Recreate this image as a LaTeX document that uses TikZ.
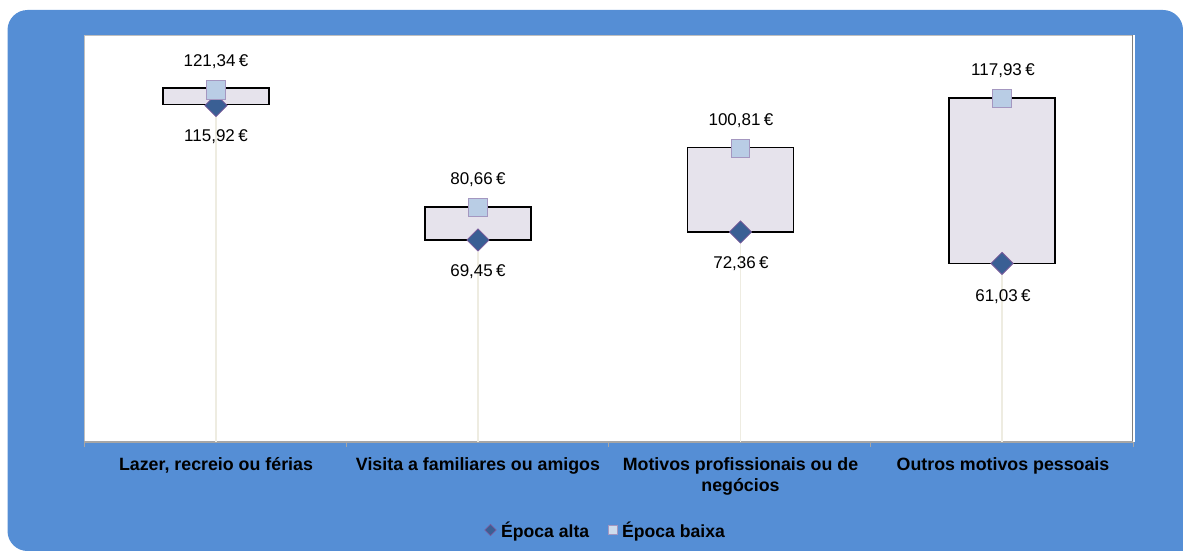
\documentclass[tikz,border=0pt]{standalone}
\usepackage{fontspec}
\setmainfont{Liberation Sans}
\usetikzlibrary{shapes.geometric}
\definecolor{bgblue}{HTML}{558ED5}
\definecolor{boxfill}{HTML}{E6E3EC}
\definecolor{sqfill}{HTML}{B9CDE5}
\definecolor{sqdraw}{HTML}{A497C0}
\definecolor{dmfill}{HTML}{3A5F94}
\definecolor{dmdraw}{HTML}{7A5A9A}
\definecolor{dropc}{HTML}{EEECE1}
\definecolor{axisc}{HTML}{A6A6A6}
\definecolor{framec}{HTML}{BFBFBF}
\begin{document}
\begin{tikzpicture}[x=1pt,y=-1pt,
  rangebox/.style={draw=black, line width=1.4pt, fill=boxfill},
  sqmark/.style={rectangle, draw=sqdraw, line width=1.2pt, fill=sqfill, minimum size=18.5pt, inner sep=0pt},
  dmmark/.style={diamond, draw=dmdraw, line width=0.8pt, fill=dmfill, minimum size=22.5pt, inner sep=0pt},
  dropline/.style={draw=dropc, line width=1.5pt},
  vallabel/.style={font=\fontsize{17}{20}\selectfont, inner sep=0pt},
  catlabel/.style={font=\fontsize{17.8}{21}\selectfont\bfseries, align=center, inner sep=0pt, anchor=base},
  legtext/.style={font=\fontsize{17.6}{21}\selectfont\bfseries, inner sep=0pt, anchor=base west},
]
\useasboundingbox (0,0) rectangle (1183,551);
% background panel: rounded corners except bottom-right
\fill[bgblue] (27.5,551) arc[start angle=270, end angle=180, radius=20pt]
  -- (7.5,30) arc[start angle=180, end angle=90, radius=20pt]
  -- (1163,10) arc[start angle=90, end angle=0, radius=20pt]
  -- (1183,551) -- cycle;
% plot area
\fill[white] (84,35) rectangle (1135,442);
\draw[framec, line width=1pt] (84,442) -- (84,35.5) -- (1132.5,35.5);
\draw[gray, line width=1.5pt] (1132.5,35.5) -- (1132.5,442);
% axis
\draw[axisc, line width=2pt] (84,442) -- (1133,442);
\foreach \tx in {84,346.25,608.5,870.75,1133}
  \draw[axisc, line width=1pt] (\tx,442) -- (\tx,447);

% coordinates on axis
\coordinate (a1) at (216,442);
\coordinate (a2) at (478,442);
\coordinate (a3) at (740.5,442);
\coordinate (a4) at (1002,442);

% boxes
\foreach \i/\cx/\lo/\hi in {1/216/104.5/88, 2/478/240/207, 3/740.5/232/147.7, 4/1002/263.4/97.8}{
  \draw[rangebox] (\cx-53,\hi) rectangle (\cx+53,\lo);
}

% markers
\node[dmmark] (lo1) at (216,105.5) {};
\node[dmmark] (lo2) at (478,240) {};
\node[dmmark] (lo3) at (740.5,232) {};
\node[dmmark] (lo4) at (1002,263.4) {};
\foreach \i in {1,2,3,4} \draw[dropline] (a\i) -- (lo\i.south);
\node[sqmark] (hi1) at (216,90) {};
\node[sqmark] (hi2) at (478,207.5) {};
\node[sqmark] (hi3) at (740.5,148.5) {};
\node[sqmark] (hi4) at (1002,98.5) {};

% value labels
\node[vallabel] (h1) at (216,62) {121,34\hspace{0.2em}€};
\node[vallabel] (l1) at (216,137) {115,92\hspace{0.2em}€};
\node[vallabel] (h2) at (478,180) {80,66\hspace{0.2em}€};
\node[vallabel] (l2) at (478,271.5) {69,45\hspace{0.2em}€};
\node[vallabel] (h3) at (741,121) {100,81\hspace{0.2em}€};
\node[vallabel] (l3) at (741,264) {72,36\hspace{0.2em}€};
\node[vallabel] (h4) at (1003,71) {117,93\hspace{0.2em}€};
\node[vallabel] (l4) at (1003,296.5) {61,03\hspace{0.2em}€};

% category labels
\node[catlabel] (c1) at (216,470) {Lazer, recreio ou férias};
\node[catlabel] (c2) at (478,470) {Visita a familiares ou amigos};
\node[catlabel] (c3) at (740.5,491.5) {Motivos profissionais ou de\\negócios};
\node[catlabel] (c4) at (1003,470) {Outros motivos pessoais};

% legend
\node[diamond, draw=dmdraw, line width=0.8pt, fill=dmfill, minimum size=11.5pt, inner sep=0pt] (lgd) at (490.5,530) {};
\node[legtext] (lgdt) at (501,537.5) {Época alta};
\node[rectangle, draw=sqdraw, line width=1pt, fill=sqfill!70!white, minimum size=9pt, inner sep=0pt] (lgs) at (612.5,529.5) {};
\node[legtext] (lgst) at (622,537.5) {Época baixa};
\end{tikzpicture}
\end{document}
